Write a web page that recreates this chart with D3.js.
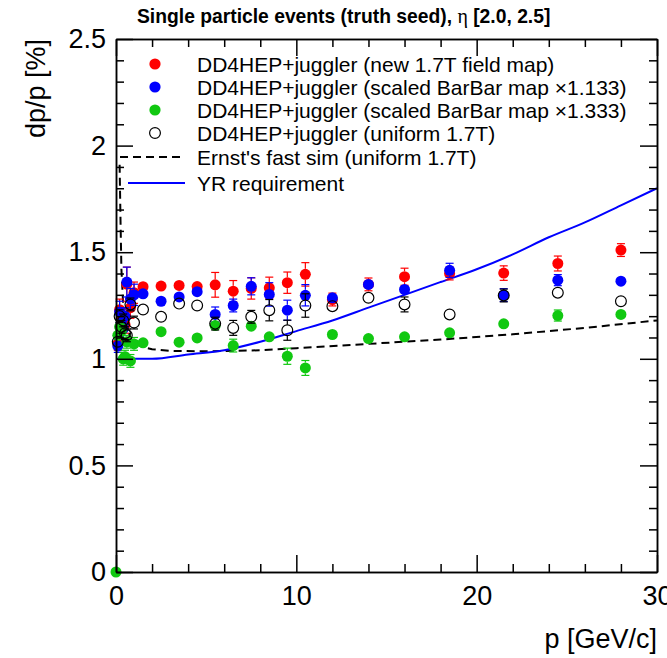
<!DOCTYPE html>
<html>
<head>
<meta charset="utf-8"/>
<title>dp/p vs p</title>
<script src="https://cdn.jsdelivr.net/npm/d3@7"></script>
<style>
  body { margin: 0; background: #fff; }
  text { font-family: "Liberation Sans", Arial, Helvetica, sans-serif; fill: #000; }
</style>
</head>
<body>
<div id="chart"></div>
<script>
// momentum bins [GeV/c]
var p = [0.1, 0.2, 0.3, 0.4, 0.5, 0.6, 0.8, 1.0, 1.5, 2.5, 3.5, 4.5, 5.5, 6.5, 7.5, 8.5, 9.5, 10.5, 12, 14, 16, 18.5, 21.5, 24.5, 28];

// dp/p [%] per configuration
var redVals   = [1.07, 1.23, 1.18, 1.20, 1.16, 1.35, 1.24, 1.31, 1.338, 1.341, 1.344, 1.339, 1.347, 1.317, 1.33, 1.333, 1.357, 1.396, 1.278, 1.349, 1.385, 1.40, 1.402, 1.447, 1.51];
var redErr    = [0.03, 0.05, 0.04, 0.04, 0.04, 0.08, 0.05, 0.05, 0.02, 0.015, 0.015, 0.02, 0.058, 0.05, 0.05, 0.05, 0.05, 0.055, 0.03, 0.03, 0.04, 0.03, 0.034, 0.035, 0.03];
var blueVals  = [1.06, 1.22, 1.17, 1.14, 1.20, 1.36, 1.28, 1.30, 1.305, 1.27, 1.29, 1.315, 1.208, 1.25, 1.34, 1.302, 1.228, 1.298, 1.286, 1.349, 1.325, 1.415, 1.299, 1.369, 1.364];
var blueErr   = [0.03, 0.05, 0.04, 0.04, 0.04, 0.07, 0.05, 0.05, 0.015, 0.012, 0.012, 0.015, 0.035, 0.03, 0.04, 0.055, 0.047, 0.05, 0.025, 0.025, 0.025, 0.033, 0.03, 0.026, 0.025];
var greenP    = [0].concat(p);
var greenVals = [0, 1.11, 1.15, 1.13, 1.00, 1.01, 1.08, 0.99, 1.07, 1.075, 1.127, 1.078, 1.098, 1.156, 1.062, 1.153, 1.103, 1.012, 0.957, 1.114, 1.095, 1.103, 1.122, 1.164, 1.203, 1.208];
var greenErr  = [0, 0.02, 0.03, 0.03, 0.03, 0.03, 0.03, 0.03, 0.03, 0.01, 0.01, 0.01, 0.01, 0.025, 0.03, 0.025, 0.025, 0.038, 0.035, 0.025, 0.022, 0.025, 0.025, 0.022, 0.026, 0.022];
var blackVals = [1.08, 1.20, 1.15, 1.18, 1.12, 1.11, 1.255, 1.17, 1.231, 1.197, 1.259, 1.25, 1.165, 1.145, 1.197, 1.228, 1.134, 1.25, 1.247, 1.286, 1.255, 1.208, 1.297, 1.31, 1.27];
var blackErr  = [0.02, 0.03, 0.03, 0.03, 0.03, 0.03, 0.03, 0.03, 0.01, 0.01, 0.01, 0.01, 0.03, 0.035, 0.03, 0.05, 0.047, 0.055, 0.025, 0.025, 0.035, 0.02, 0.03, 0.022, 0.02];

// curves
var ernstP = [0.2, 0.25, 0.3, 0.4, 0.6, 0.8, 1.0, 1.5, 2, 3, 5, 8, 10, 14, 18, 22, 26, 30];
var ernstV = [1.91, 1.65, 1.42, 1.25, 1.15, 1.10, 1.075, 1.055, 1.045, 1.037, 1.035, 1.04, 1.05, 1.07, 1.09, 1.115, 1.145, 1.18];
var yrP = [0, 2, 4, 6, 8, 10, 12, 14, 16, 18, 20, 22, 24, 26, 28, 30];
var yrV = [1.0, 1.0, 1.02, 1.04, 1.08, 1.13, 1.18, 1.24, 1.30, 1.36, 1.42, 1.49, 1.57, 1.64, 1.72, 1.80];

var legendLabels = [
  "DD4HEP+juggler (new 1.7T field map)",
  "DD4HEP+juggler (scaled BarBar map \u00d71.133)",
  "DD4HEP+juggler (scaled BarBar map \u00d71.333)",
  "DD4HEP+juggler (uniform 1.7T)",
  "Ernst's fast sim (uniform 1.7T)",
  "YR requirement"
];

var W = 667, H = 658;
var x0 = 116, x1 = 657, yTop = 39, yBot = 572;
var RED = "#ff0000", BLUE = "#0000ff", GREEN = "#11c811";

var svg = d3.select("#chart").append("svg")
    .attr("width", W)
    .attr("height", H);

var x = d3.scaleLinear().domain([0, 30]).range([x0, x1]);
var y = d3.scaleLinear().domain([0, 2.5]).range([yBot, yTop]);

// title
var title = svg.append("text")
    .attr("x", 137).attr("y", 23)
    .style("font-size", "19.3px").style("font-weight", "bold");
title.append("tspan").text("Single particle events (truth seed), ");
title.append("tspan").style("font-family", "'Liberation Serif', 'DejaVu Serif', serif")
    .style("font-weight", "normal").style("font-size", "20px").text("\u03b7");
title.append("tspan").text(" [2.0, 2.5]");

// curves first, markers drawn on top
var line = d3.line().x(function(d) { return x(d[0]); }).y(function(d) { return y(d[1]); });

svg.append("path")
    .datum(d3.zip(ernstP, ernstV))
    .attr("d", line)
    .attr("fill", "none").attr("stroke", "#000")
    .attr("stroke-width", 2).attr("stroke-dasharray", "8,5");

svg.append("path")
    .datum(d3.zip(yrP, yrV))
    .attr("d", line.curve(d3.curveMonotoneX))
    .attr("fill", "none").attr("stroke", BLUE).attr("stroke-width", 2);

function drawSeries(ps, vals, errs, color, open) {
  var r = open ? 5.4 : 5.5;
  var g = svg.append("g");
  var data = d3.zip(ps, vals, errs);
  // like ROOT: only the part of the error bar outside the marker is drawn
  var withErr = data.filter(function(d) { return y(d[1] - d[2]) - y(d[1]) > r; });
  var eb = g.selectAll(".eb").data(withErr).enter().append("g");
  [-1, 1].forEach(function(s) {
    eb.append("line")
        .attr("x1", function(d) { return x(d[0]); }).attr("x2", function(d) { return x(d[0]); })
        .attr("y1", function(d) { return y(d[1]) - s * r; })
        .attr("y2", function(d) { return y(d[1] + s * d[2]); })
        .attr("stroke", color).attr("stroke-width", 1.2);
    eb.append("line")
        .attr("x1", function(d) { return x(d[0]) - 4; }).attr("x2", function(d) { return x(d[0]) + 4; })
        .attr("y1", function(d) { return y(d[1] + s * d[2]); }).attr("y2", function(d) { return y(d[1] + s * d[2]); })
        .attr("stroke", color).attr("stroke-width", 1.2);
  });
  g.selectAll("circle").data(data).enter().append("circle")
      .attr("cx", function(d) { return x(d[0]); })
      .attr("cy", function(d) { return y(d[1]); })
      .attr("r", r)
      .attr("fill", open ? "none" : color)
      .attr("stroke", open ? "#000" : "none")
      .attr("stroke-width", 1.2);
}

drawSeries(p, redVals, redErr, RED, false);
drawSeries(p, blueVals, blueErr, BLUE, false);
drawSeries(greenP, greenVals, greenErr, GREEN, false);
drawSeries(p, blackVals, blackErr, "#000", true);

// frame and axes (ticks on all four sides)
var yMajor = [0, 0.5, 1, 1.5, 2, 2.5];
var yMinor = d3.range(0, 2.5001, 0.1).filter(function(v) { return Math.abs(v * 2 - Math.round(v * 2)) > 1e-6; });
var xMajor = [0, 10, 20, 30];
var xMinor = d3.range(2, 30, 2).filter(function(v) { return v % 10 !== 0; });

function styleAxis(g) {
  g.selectAll("path, line").attr("stroke", "#000").attr("stroke-width", 1.5);
  g.selectAll("text").style("font-size", "27px").attr("fill", "#000")
      .style("font-family", "'Liberation Sans', Arial, sans-serif");
}

svg.append("g").attr("transform", "translate(" + x0 + ",0)")
    .call(d3.axisLeft(y).tickValues(yMajor).tickSizeInner(-17).tickSizeOuter(0).tickPadding(10).tickFormat(d3.format("~g")))
    .call(styleAxis);
svg.append("g").attr("transform", "translate(" + x0 + ",0)")
    .call(d3.axisLeft(y).tickValues(yMinor).tickSizeInner(-8).tickSizeOuter(0).tickFormat(""))
    .call(styleAxis);
svg.append("g").attr("transform", "translate(" + x1 + ",0)")
    .call(d3.axisRight(y).tickValues(yMajor).tickSizeInner(-17).tickSizeOuter(0).tickFormat(""))
    .call(styleAxis);
svg.append("g").attr("transform", "translate(" + x1 + ",0)")
    .call(d3.axisRight(y).tickValues(yMinor).tickSizeInner(-8).tickSizeOuter(0).tickFormat(""))
    .call(styleAxis);
svg.append("g").attr("transform", "translate(0," + yBot + ")")
    .call(d3.axisBottom(x).tickValues(xMajor).tickSizeInner(-17).tickSizeOuter(0).tickPadding(14).tickFormat(d3.format("d")))
    .call(styleAxis);
svg.append("g").attr("transform", "translate(0," + yBot + ")")
    .call(d3.axisBottom(x).tickValues(xMinor).tickSizeInner(-8).tickSizeOuter(0).tickFormat(""))
    .call(styleAxis);
svg.append("g").attr("transform", "translate(0," + yTop + ")")
    .call(d3.axisTop(x).tickValues(xMajor).tickSizeInner(-17).tickSizeOuter(0).tickFormat(""))
    .call(styleAxis);
svg.append("g").attr("transform", "translate(0," + yTop + ")")
    .call(d3.axisTop(x).tickValues(xMinor).tickSizeInner(-8).tickSizeOuter(0).tickFormat(""))
    .call(styleAxis);

// axis titles
svg.append("text")
    .attr("transform", "translate(45," + yTop + ") rotate(-90)")
    .attr("text-anchor", "end")
    .style("font-size", "27px")
    .text("dp/p [%]");
svg.append("text")
    .attr("x", x1).attr("y", 648)
    .attr("text-anchor", "end")
    .style("font-size", "27px")
    .text("p [GeV/c]");

// legend
var legX = 155, textX = 197, rows = [64, 87, 110, 133, 157, 183];
var leg = svg.append("g");
[RED, BLUE, GREEN].forEach(function(c, i) {
  leg.append("circle").attr("cx", legX).attr("cy", rows[i]).attr("r", 5.6).attr("fill", c);
});
leg.append("circle").attr("cx", legX).attr("cy", rows[3]).attr("r", 5.4)
    .attr("fill", "none").attr("stroke", "#000").attr("stroke-width", 1.2);
leg.append("line").attr("x1", 120).attr("x2", 185).attr("y1", rows[4]).attr("y2", rows[4])
    .attr("stroke", "#000").attr("stroke-width", 2).attr("stroke-dasharray", "8,5");
leg.append("line").attr("x1", 128).attr("x2", 185).attr("y1", rows[5]).attr("y2", rows[5])
    .attr("stroke", BLUE).attr("stroke-width", 2);
leg.selectAll(".lt").data(legendLabels).enter().append("text")
    .attr("x", textX)
    .attr("y", function(d, i) { return rows[i]; })
    .attr("dy", "0.36em")
    .style("font-size", "21px")
    .text(function(d) { return d; });
</script>
</body>
</html>
